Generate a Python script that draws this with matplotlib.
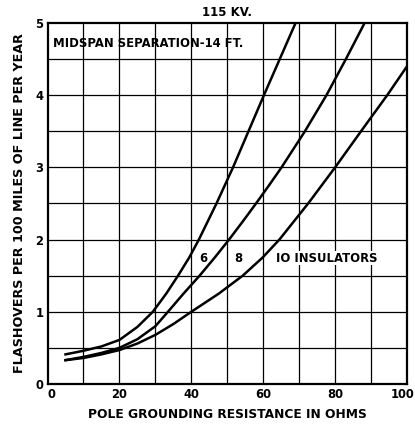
import matplotlib
matplotlib.use("Agg")
import matplotlib.pyplot as plt
import matplotlib.transforms as mtransforms
import numpy as np

# Data
x6 = [5, 10, 15, 20, 25, 29.3, 33, 36.3, 39.4, 42.1, 47, 51.6, 55.9, 60.2, 64.6, 69]
y6 = [0.41, 0.46, 0.52, 0.61, 0.79, 1.0, 1.25, 1.5, 1.75, 2.0, 2.5, 3.0, 3.5, 4.0, 4.5, 5.0]

x8 = [5, 10, 15, 20, 25, 30, 33.5, 37.8, 42.3, 46.5, 50.5, 54.3, 58, 61.6, 65.1, 71.6, 77.6, 83, 88.2]
y8 = [0.33, 0.375, 0.43, 0.50, 0.62, 0.80, 1.0, 1.25, 1.5, 1.75, 2.0, 2.25, 2.5, 2.75, 3.0, 3.5, 4.0, 4.5, 5.0]

x10 = [5, 10, 15, 20, 25, 30, 35, 40, 47.6, 54.3, 59.8, 64.5, 72.5, 80, 87.2, 94.5, 100]
y10 = [0.33, 0.36, 0.41, 0.47, 0.56, 0.68, 0.83, 1.0, 1.25, 1.5, 1.75, 2.0, 2.5, 3.0, 3.5, 4.0, 4.4]

xticks = [0, 20, 40, 60, 80, 100]
yticks = [0, 1, 2, 3, 4, 5]

FONT = "DejaVu Sans"

fig = plt.figure(figsize=(4.15, 4.30), dpi=100)
ax = fig.add_axes([0.1145, 0.107, 0.8665, 0.840])

for v in np.arange(10, 100, 10):
    ax.axvline(v, color="black", lw=0.9, zorder=1)
for h in np.arange(0.5, 5.0, 0.5):
    ax.axhline(h, color="black", lw=0.9, zorder=1)

for xs, ys in [(x6, y6), (x8, y8), (x10, y10)]:
    ax.plot(xs, ys, color="black", lw=1.8, zorder=3, solid_joinstyle="round")

ax.set_xlim(0, 100)
ax.set_ylim(0, 5)
for s in ax.spines.values():
    s.set_linewidth(1.6)
ax.set_xticks(xticks)
ax.set_yticks(yticks)
ax.tick_params(length=0, pad=3)
for lab in ax.get_xticklabels() + ax.get_yticklabels():
    lab.set_fontfamily(FONT)
    lab.set_fontweight("bold")
    lab.set_fontsize(8.3)
last = ax.get_xticklabels()[-1]
last.set_transform(last.get_transform() +
                   mtransforms.ScaledTranslation(-5 / 100, 0, fig.dpi_scale_trans))
first = ax.get_xticklabels()[0]
first.set_transform(first.get_transform() +
                    mtransforms.ScaledTranslation(4 / 100, 0, fig.dpi_scale_trans))

ax.set_xlabel("POLE GROUNDING RESISTANCE IN OHMS", fontfamily=FONT, fontweight="bold",
              fontsize=8.8, labelpad=5)
ax.set_ylabel("FLASHOVERS PER 100 MILES OF LINE PER YEAR", fontfamily=FONT, fontweight="bold",
              fontsize=9.2, labelpad=7)
ax.set_title("115 KV.", fontfamily=FONT, fontweight="bold", fontsize=8.5, pad=5)

ax.text(1.6, 4.72, "MIDSPAN SEPARATION-14 FT.", fontfamily=FONT, fontweight="bold",
        fontsize=8.4, va="center", ha="left", zorder=4)
ax.text(42.3, 1.74, "6", fontfamily=FONT, fontweight="bold", fontsize=8.4, va="center", ha="left", zorder=4)
ax.text(51.8, 1.74, "8", fontfamily=FONT, fontweight="bold", fontsize=8.4, va="center", ha="left", zorder=4)
ax.text(63.6, 1.74, "IO INSULATORS", fontfamily=FONT, fontweight="bold", fontsize=8.4,
        va="center", ha="left", zorder=4,
        bbox=dict(facecolor="white", edgecolor="none", pad=0.5))

fig.savefig("out.png", dpi=100, facecolor="white")
